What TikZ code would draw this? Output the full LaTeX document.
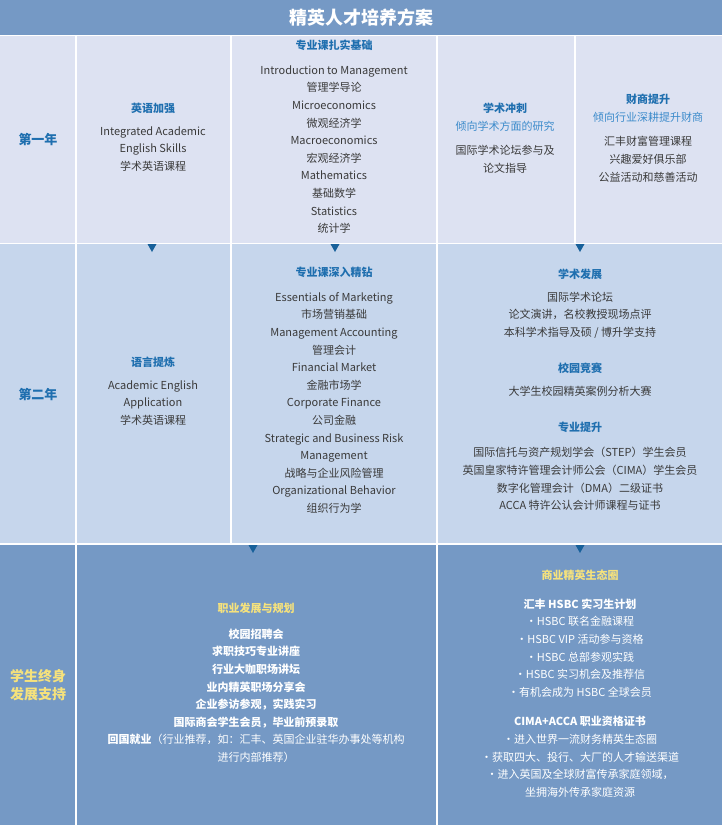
\documentclass[tikz,border=0pt]{standalone}
\usepackage{fontspec}
\setmainfont{Noto Sans CJK SC}
\definecolor{midb}{HTML}{7599C5}
\definecolor{lite}{HTML}{DDE2F2}
\definecolor{lite2}{HTML}{C6D6EC}
\definecolor{hd}{HTML}{1F6FAF}
\definecolor{sub}{HTML}{3C8BCB}
\definecolor{txt}{HTML}{3A3A3A}
\definecolor{yel}{HTML}{F6E27C}
\definecolor{arr}{HTML}{17609A}
\tikzset{
 blk/.style={anchor=north,inner sep=0,align=center,font=\fontsize{11}{17.6}\selectfont,text=txt},
 wblk/.style={blk,text=white},
 tri/.style={fill=arr,draw=none},
 sep/.style={draw=white,line width=1.5pt}
}
\newcommand{\hh}[1]{{\bfseries\color{hd}#1}}
\newcommand{\sbx}[1]{{\color{sub}#1}}
\newcommand{\yy}[1]{{\bfseries\color{yel}#1}}
\begin{document}
\begin{tikzpicture}[x=1pt,y=-1pt]
\useasboundingbox (0,0) rectangle (722,828);
\fill[white] (0,0) rectangle (722,828);
\fill[midb] (0,0) rectangle (722,35);
\fill[lite] (0,36) rectangle (722,243);
\fill[lite2] (0,244) rectangle (722,543);
\fill[midb] (0,545) rectangle (722,825);
\draw[sep] (0,35.5)--(722,35.5);
\draw[sep] (0,243.5)--(722,243.5);
\draw[sep] (0,544)--(722,544);
\draw[sep] (76,35)--(76,825);
\draw[sep] (231,35)--(231,544);
\draw[sep] (437,35)--(437,825);
\draw[sep] (575,35)--(575,243.5);
\node[inner sep=0,text=white,font=\fontsize{18}{20}\selectfont\bfseries] (title) at (361,18) {精英人才培养方案};
% labels
\node[blk,font=\fontsize{13}{17}\selectfont\bfseries,text=hd,anchor=center] (y1) at (38,139) {第一年};
\node[blk,font=\fontsize{13}{17}\selectfont\bfseries,text=hd,anchor=center] (y2) at (38,394) {第二年};
\node[blk,font=\fontsize{14}{18.5}\selectfont\bfseries,text=yel,anchor=center] (y3) at (38,685) {学生终身\\发展支持};
% row 1
\node[blk] (a1) at (153,103) {\hh{英语加强}\\[5pt]Integrated Academic\\English Skills\\学术英语课程};
\node[blk] (a2) at (334,40) {\hh{专业课扎实基础}\\[7pt]Introduction to Management\\管理学导论\\Microeconomics\\微观经济学\\Macroeconomics\\宏观经济学\\Mathematics\\基础数学\\Statistics\\统计学};
\node[blk] (a3) at (505,103) {\hh{学术冲刺}\\\sbx{倾向学术方面的研究}\\[7pt]国际学术论坛参与及\\论文指导};
\node[blk] (a4) at (648,94) {\hh{财商提升}\\\sbx{倾向行业深耕提升财商}\\[7pt]汇丰财富管理课程\\兴趣爱好俱乐部\\公益活动和慈善活动};
% row 2
\node[blk] (b1) at (153,357) {\hh{语言提炼}\\[5pt]Academic English\\Application\\学术英语课程};
\node[blk] (b2) at (334,267) {\hh{专业课深入精钻}\\[7pt]Essentials of Marketing\\市场营销基础\\Management Accounting\\管理会计\\Financial Market\\金融市场学\\Corporate Finance\\公司金融\\Strategic and Business Risk\\Management\\战略与企业风险管理\\Organizational Behavior\\组织行为学};
\node[blk] (b3) at (580,269) {\hh{学术发展}\\[5pt]国际学术论坛\\论文演讲，名校教授现场点评\\本科学术指导及硕 / 博升学支持\\[18pt]\hh{校园竞赛}\\[6pt]大学生校园精英案例分析大赛\\[18pt]\hh{专业提升}\\[8pt]国际信托与资产规划学会（STEP）学生会员\\英国皇家特许管理会计师公会（CIMA）学生会员\\数字化管理会计（DMA）二级证书\\ACCA 特许公认会计师课程与证书};
% row 3
\node[wblk] (c1) at (256,603) {\yy{职业发展与规划}\\[8pt]\bfseries 校园招聘会\\\bfseries 求职技巧专业讲座\\\bfseries 行业大咖职场讲坛\\\bfseries 业内精英职场分享会\\\bfseries 企业参访参观，实践实习\\\bfseries 国际商会学生会员，毕业前预录取\\{\bfseries 回国就业}（行业推荐，如：汇丰、英国企业驻华办事处等机构\\进行内部推荐）};
\node[wblk] (c2) at (580,570) {\yy{商业精英生态圈}\\[11pt]\bfseries 汇丰 HSBC 实习生计划\\·HSBC 联名金融课程\\·HSBC VIP 活动参与资格\\·HSBC 总部参观实践\\·HSBC 实习机会及推荐信\\·有机会成为 HSBC 全球会员\\[12pt]\bfseries CIMA+ACCA 职业资格证书\\·进入世界一流财务精英生态圈\\·获取四大、投行、大厂的人才输送渠道\\·进入英国及全球财富传承家庭领域，\\坐拥海外传承家庭资源};
% arrows
\foreach \n/\x/\y in {t1/152/244,t2/335/244,t3/580/244,t4/253/545,t5/580/545}
  \fill[tri] (\x-4.5,\y) -- (\x+4.5,\y) -- (\x,\y+8) -- cycle;
\end{tikzpicture}
\end{document}
